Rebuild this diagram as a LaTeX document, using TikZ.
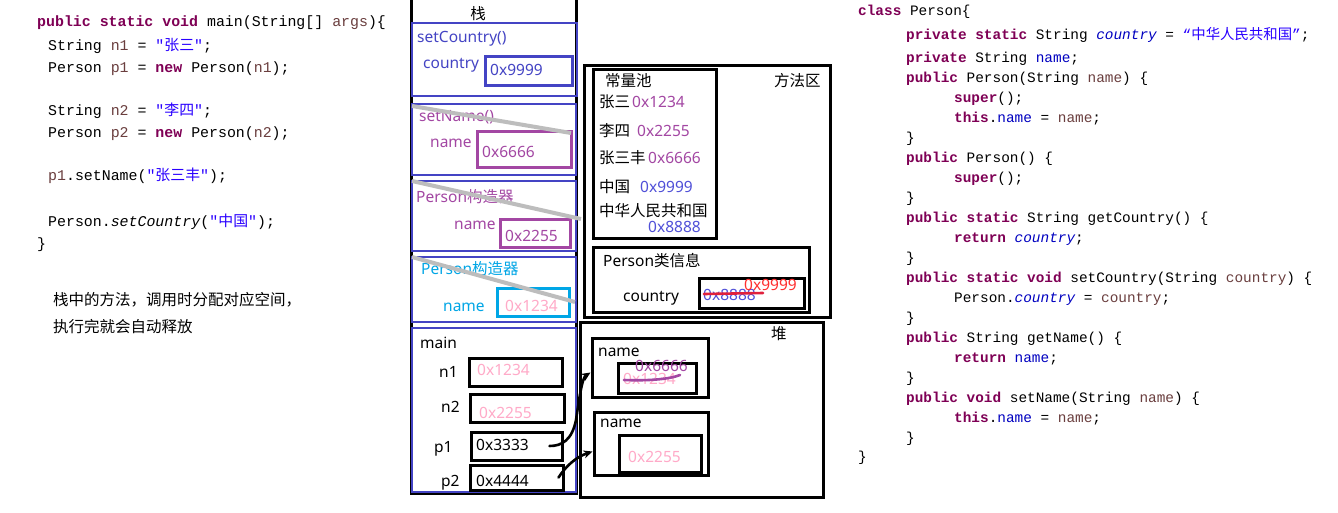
\documentclass[tikz,border=0pt]{standalone}
\usepackage{fontspec}
\newfontfamily\cjk{Noto Sans CJK SC}
\newfontfamily\lat{Noto Sans}
\newfontfamily\mono{Liberation Mono}
\usetikzlibrary{arrows.meta}
\definecolor{jkw}{HTML}{7F0055}
\definecolor{jvar}{HTML}{6A3E3E}
\definecolor{jstr}{HTML}{2A00FF}
\definecolor{jfld}{HTML}{0000C0}
\definecolor{sblue}{HTML}{4444C4}
\definecolor{spur}{HTML}{A347A3}
\definecolor{scyan}{HTML}{00A6E6}
\definecolor{spink}{HTML}{FFAAC8}
\definecolor{sgrey}{HTML}{BDBDBD}
\definecolor{pblue}{HTML}{5050D8}
\definecolor{sred}{HTML}{FF3030}
\definecolor{sstrike}{HTML}{E0203C}
\newcommand\zh[1]{{\cjk #1}}
\newcommand\jk[1]{{\bfseries\color{jkw}#1}}
\newcommand\jv[1]{{\color{jvar}#1}}
\newcommand\js[1]{{\color{jstr}#1}}
\newcommand\jf[1]{{\color{jfld}#1}}
\newcommand\jsf[1]{{\itshape\color{jfld}#1}}
\newcommand\mkbox[6]{\node[#1, minimum width={(#4-#2)*1pt}, minimum height={(#5-#3)*1pt}] (#6) at ({(#2+#4)/2},{(#3+#5)/2}) {};}
\begin{document}
\begin{tikzpicture}[x=1pt,y=-1pt,
  t/.style={inner sep=0pt, anchor=west, text height=11pt, text depth=3pt, font=\lat\fontsize{15.5}{18}\selectfont},
  lcode/.style={inner sep=0pt, anchor=west, text height=10.5pt, text depth=3pt, font=\mono\fontsize{14.9}{17}\selectfont},
  rcode/.style={inner sep=0pt, anchor=west, text height=10pt, text depth=3pt, font=\mono\fontsize{14.4}{17}\selectfont},
  note/.style={inner sep=0pt, anchor=west, text height=11pt, text depth=3pt, font=\cjk\fontsize{15.5}{18}\selectfont},
  sframe/.style={draw=sblue, line width=2.6pt, inner sep=0pt},
  ibox/.style={draw, line width=3pt, inner sep=0pt},
  bbox/.style={draw=black, line width=3pt, inner sep=0pt},
  greyline/.style={draw=sgrey, line width=4pt},
  hand/.style={draw=black, line width=2.6pt, line cap=round, -{Stealth[length=9pt,width=8pt]}}
]
\useasboundingbox[fill=white] (0,0) rectangle (1338,512);

% ---------- left code ----------
\node[lcode] (l1) at (37,23) {\jk{public static void} main(String[] \jv{args})\{};
\node[lcode] (l2) at (48,47) {String \jv{n1} = \js{"\zh{张三}"};};
\node[lcode] (l3) at (48,69) {Person \jv{p1} = \jk{new} Person(\jv{n1});};
\node[lcode] (l4) at (48,112) {String \jv{n2} = \js{"\zh{李四}"};};
\node[lcode] (l5) at (48,134) {Person \jv{p2} = \jk{new} Person(\jv{n2});};
\node[lcode] (l6) at (48,177) {\jv{p1}.setName(\js{"\zh{张三丰}"});};
\node[lcode] (l7) at (48,223) {Person.\textit{setCountry}(\js{"\zh{中国}"});};
\node[lcode] (l8) at (37,245) {\}};
\node[note] (n1) at (53,301) {栈中的方法，调用时分配对应空间，};
\node[note] (n2) at (53,328) {执行完就会自动释放};

% ---------- stack ----------
\draw[black, line width=3pt] (411.5,0) -- (411.5,493) -- (576.5,493) -- (576.5,0);
\node[t, anchor=center] (stitle) at (478,15) {\zh{栈}};
\mkbox{sframe}{412}{23}{577}{96}{fsc}
\mkbox{sframe}{412}{104}{576}{175}{fsn}
\mkbox{sframe}{412}{181}{576}{251}{fpc1}
\mkbox{sframe}{412}{257}{576}{322}{fpc2}
\mkbox{sframe}{412}{328}{576}{492}{fmain}
\mkbox{ibox, draw=sblue}{485}{56}{572}{85}{bsc}
\mkbox{ibox, draw=spur}{477}{131}{571}{167}{bsn}
\mkbox{ibox, draw=spur}{500}{219}{570}{247}{bpc1}
\mkbox{ibox, draw=scyan}{497}{288}{569}{316}{bpc2}
\mkbox{bbox}{469}{358}{562}{386}{bn1}
\mkbox{bbox}{470}{394}{564}{422}{bn2}
\mkbox{bbox}{471}{432}{562}{460}{bp1}
\mkbox{bbox}{470}{465}{563}{490}{bp2}

\node[t, text=sblue] (tsc) at (417,38) {setCountry()};
\node[t, text=sblue] (tcty) at (423,64) {country};
\node[t, text=sblue] (vsc) at (490,71) {0x9999};
\node[t, text=spur] (tsn) at (419,117) {setName()};
\node[t, text=spur] (tnm1) at (430,143) {name};
\node[t, text=spur] (vsn) at (482,153) {0x6666};
\node[t, text=spur] (tpc1) at (416,198) {Person\zh{构造器}};
\node[t, text=spur] (tnm2) at (454,225) {name};
\node[t, text=spur] (vpc1) at (505,237) {0x2255};
\node[t, text=scyan] (tpc2) at (421,270) {Person\zh{构造器}};
\node[t, text=scyan] (tnm3) at (443,307) {name};
\node[t, text=spink] (vpc2) at (505,307) {0x1234};
\node[t] (tmain) at (420,344) {main};
\node[t] (tn1) at (439,373) {n1};
\node[t] (tn2) at (441,408) {n2};
\node[t] (tp1) at (434,448) {p1};
\node[t] (tp2) at (441,482) {p2};
\node[t, text=spink] (vn1) at (477,371) {0x1234};
\node[t, text=spink] (vn2) at (479,414) {0x2255};
\node[t] (vp1) at (476,446) {0x3333};
\node[t] (vp2) at (476,482) {0x4444};

\draw[greyline] (412,106) -- (571,133);
\draw[greyline] (412,181) -- (581,219);
\draw[greyline] (412,257) -- (575,302);

% ---------- method area ----------
\mkbox{bbox}{584}{65}{830}{317}{marea}
\mkbox{bbox}{593}{69}{716}{238}{cpool}
\mkbox{bbox}{593}{247}{809}{312}{pinfo}
\mkbox{bbox}{699}{278}{804}{308}{bcountry}
\node[t] (tcp) at (605,82) {\zh{常量池}};
\node[t] (tma) at (774,82) {\zh{方法区}};
\node[t] (c1) at (599,103) {\zh{张三}};
\node[t, text=spur] (c1v) at (632,103) {0x1234};
\node[t] (c2) at (599,132) {\zh{李四}};
\node[t, text=spur] (c2v) at (637,132) {0x2255};
\node[t] (c3) at (599,159) {\zh{张三丰}};
\node[t, text=spur] (c3v) at (648,159) {0x6666};
\node[t] (c4) at (599,188) {\zh{中国}};
\node[t, text=pblue] (c4v) at (640,188) {0x9999};
\node[t] (c5) at (599,212) {\zh{中华人民共和国}};
\node[t, text=pblue] (c5v) at (648,228) {0x8888};
\node[t] (tpi) at (603,262) {Person\zh{类信息}};
\node[t] (tpc) at (623,297) {country};
\node[t, text=pblue] (pold) at (703,296) {0x8888};
\node[t, text=sred] (pnew) at (744,286) {0x9999};
\draw[sstrike, line width=2.6pt, line cap=round] (704,294) -- (763,293);

% ---------- heap ----------
\mkbox{bbox}{580}{322}{823}{497}{heap}
\mkbox{bbox}{592}{338}{708}{397}{obj1}
\mkbox{bbox}{618}{363}{696}{393}{obj1v}
\mkbox{bbox}{594}{412}{708}{475}{obj2}
\mkbox{bbox}{619}{435}{701}{472}{obj2v}
\node[t] (theap) at (771,335) {\zh{堆}};
\node[t] (on1) at (598,352) {name};
\node[t, text=spink] (o1old) at (623,380) {0x1234};
\node[t, text=spur] (o1new) at (635,367) {0x6666};
\draw[spur, line width=2.6pt, line cap=round] (624,380) .. controls (650,381) and (670,379) .. (680,375);
\node[t] (on2) at (600,423) {name};
\node[t, text=spink] (o2v) at (628,458) {0x2255};

% ---------- references ----------
\draw[hand] ([xshift=-14pt]bp1.east) .. controls (562,446) and (572,440) .. (576,420) .. controls (579,400) and (582,378) .. ([yshift=-5pt]obj1.west);
\draw[hand] ([xshift=-6pt]bp2.east) .. controls (566,466) and (576,457) .. ([yshift=-8pt]obj2.west);

% ---------- right code ----------
\node[rcode] (r1) at (858,12) {\jk{class} Person\{};
\node[rcode] (r2) at (906,36) {\jk{private static} String \jsf{country} = \js{“\zh{中华人民共和国}”};};
\node[rcode] (r3) at (906,59) {\jk{private} String \jf{name};};
\node[rcode] (r4) at (906,79) {\jk{public} Person(String \jv{name}) \{};
\node[rcode] (r5) at (954,99) {\jk{super}();};
\node[rcode] (r6) at (954,119) {\jk{this}.\jf{name} = \jv{name};};
\node[rcode] (r7) at (906,139) {\}};
\node[rcode] (r8) at (906,159) {\jk{public} Person() \{};
\node[rcode] (r9) at (954,179) {\jk{super}();};
\node[rcode] (r10) at (906,199) {\}};
\node[rcode] (r11) at (906,219) {\jk{public static} String getCountry() \{};
\node[rcode] (r12) at (954,239) {\jk{return} \jsf{country};};
\node[rcode] (r13) at (906,259) {\}};
\node[rcode] (r14) at (906,279) {\jk{public static void} setCountry(String \jv{country}) \{};
\node[rcode] (r15) at (954,299) {Person.\jsf{country} = \jv{country};};
\node[rcode] (r16) at (906,319) {\}};
\node[rcode] (r17) at (906,339) {\jk{public} String getName() \{};
\node[rcode] (r18) at (954,359) {\jk{return} \jf{name};};
\node[rcode] (r19) at (906,379) {\}};
\node[rcode] (r20) at (906,399) {\jk{public void} setName(String \jv{name}) \{};
\node[rcode] (r21) at (954,419) {\jk{this}.\jf{name} = \jv{name};};
\node[rcode] (r22) at (906,439) {\}};
\node[rcode] (r23) at (858,458) {\}};
\end{tikzpicture}
\end{document}
